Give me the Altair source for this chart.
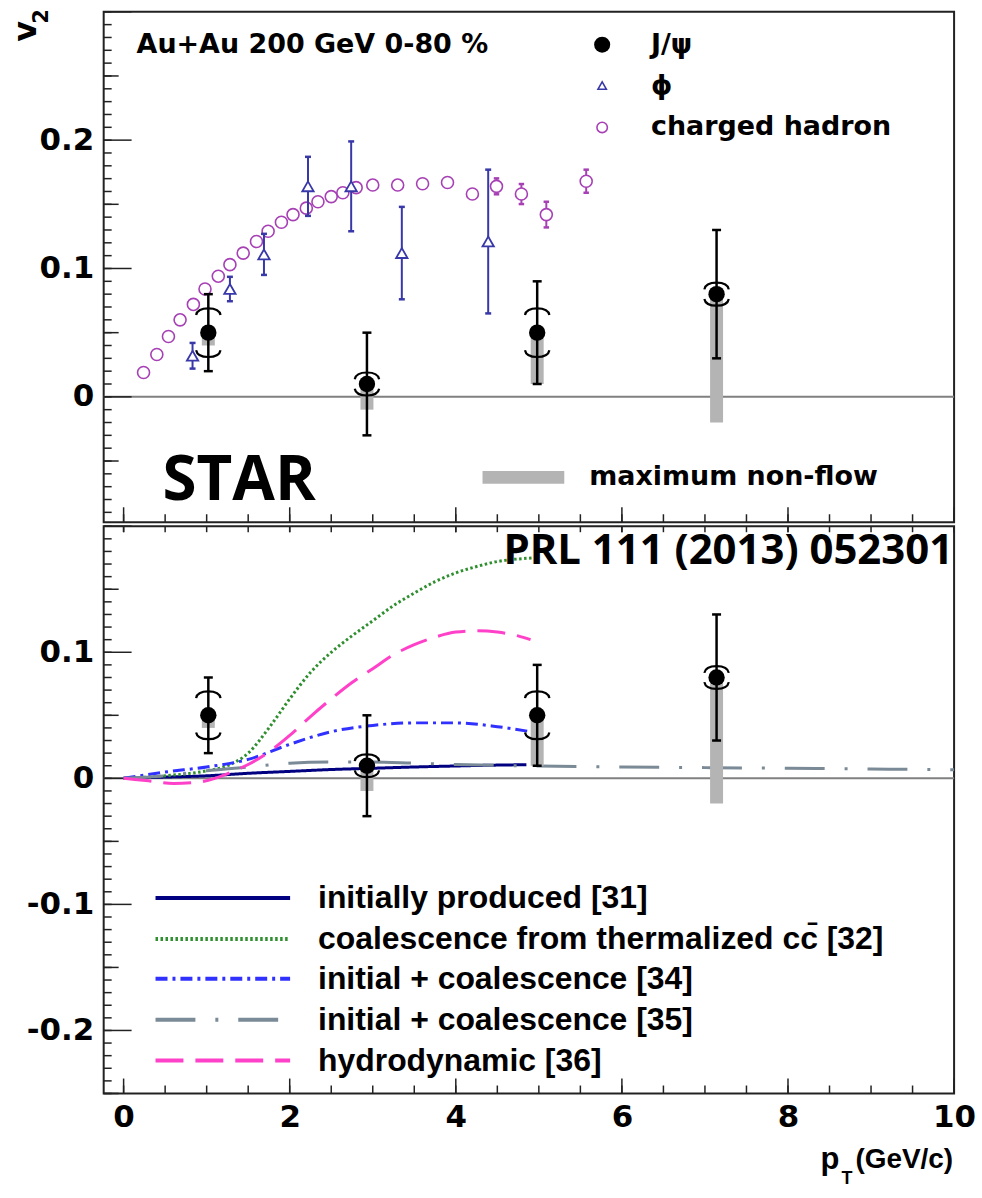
import altair as alt
import pandas as pd

# ---------------- data ----------------
jpsi_pt = [1.02, 2.93, 4.98, 7.14]
jpsi_v2 = [0.050, 0.010, 0.050, 0.080]
jpsi_stat = [0.030, 0.040, 0.040, 0.050]
jpsi_sys = [0.018, 0.008, 0.018, 0.008]
jpsi_nonflow_low = [0.040, -0.010, 0.010, -0.020]

phi_pt = [0.83, 1.28, 1.69, 2.22, 2.74, 3.35, 4.39]
phi_v2 = [0.032, 0.084, 0.111, 0.164, 0.164, 0.112, 0.121]
phi_err = [0.010, 0.0095, 0.016, 0.023, 0.035, 0.036, 0.056]

had_pt = [0.24, 0.40, 0.54, 0.68, 0.84, 0.98, 1.14, 1.28, 1.44, 1.60, 1.74, 1.90,
          2.04, 2.20, 2.34, 2.50, 2.64, 2.80, 3.00, 3.30, 3.60, 3.90, 4.20, 4.49,
          4.79, 5.09, 5.57]
had_v2 = [0.019, 0.033, 0.047, 0.060, 0.072, 0.084, 0.094, 0.103, 0.112, 0.121, 0.129, 0.136,
          0.142, 0.147, 0.152, 0.156, 0.159, 0.163, 0.165, 0.165, 0.166, 0.167, 0.158, 0.164,
          0.158, 0.142, 0.168]
had_err = [0, 0, 0, 0, 0, 0, 0, 0, 0, 0, 0, 0,
           0, 0, 0, 0, 0, 0, 0, 0, 0, 0, 0, 0.0062,
           0.0078, 0.010, 0.009]

m31_pt = [0.0, 0.5, 1.0, 1.5, 2.0, 2.5, 3.0, 3.5, 4.0, 4.5, 4.85]
m31_v2 = [0.0, 0.001, 0.002, 0.004, 0.0055, 0.007, 0.008, 0.009, 0.0098, 0.0105, 0.0108]

m32_pt = [0.0, 0.5, 1.0, 1.25, 1.5, 1.75, 2.0, 2.25, 2.5, 2.75, 3.0, 3.25, 3.5, 3.75,
          4.0, 4.25, 4.5, 4.75, 5.0]
m32_v2 = [0.0, 0.002, 0.006, 0.010, 0.020, 0.040, 0.063, 0.084, 0.100, 0.113, 0.125, 0.137,
          0.147, 0.156, 0.163, 0.168, 0.172, 0.174, 0.175]

m34_pt = [0.0, 0.5, 1.0, 1.5, 2.0, 2.5, 3.0, 3.5, 4.0, 4.5, 4.9]
m34_v2 = [0.0, 0.005, 0.009, 0.015, 0.027, 0.037, 0.042, 0.044, 0.044, 0.041, 0.037]

m35_pt = [0.0, 0.5, 1.0, 1.5, 2.0, 2.5, 3.0, 3.5, 4.0, 5.0, 6.0, 7.0, 8.0, 9.0, 10.0]
m35_v2 = [0.0, 0.002, 0.006, 0.009, 0.012, 0.013, 0.013, 0.012, 0.011, 0.0097, 0.009, 0.0085,
          0.008, 0.0074, 0.0068]

m36_pt = [0.0, 0.3, 0.6, 0.9, 1.1, 1.3, 1.5, 1.75, 2.0, 2.25, 2.5, 2.75, 3.0, 3.25, 3.5,
          3.75, 4.0, 4.25, 4.5, 4.75, 4.9]
m36_v2 = [0.0, -0.002, -0.004, -0.003, 0.0, 0.005, 0.011, 0.021, 0.034, 0.049, 0.063, 0.076,
          0.087, 0.098, 0.106, 0.112, 0.116, 0.117, 0.116, 0.113, 0.110]

model_labels = ["initially produced [31]", "coalescence from thermalized c\u0063\u0304 [32]",
                "initial + coalescence [34]", "initial + coalescence [35]", "hydrodynamic [36]"]

top_yticks = [0, 0.1, 0.2]
bot_yticks = [-0.2, -0.1, 0, 0.1]
xticks = [0, 2, 4, 6, 8, 10]

# ---------------- geometry / style ----------------
W, HT, HB = 853, 512, 569
XS = alt.Scale(domain=[-0.24, 10], nice=False, zero=False)
YT = alt.Scale(domain=[-0.0977, 0.3], nice=False, zero=False)
YB = alt.Scale(domain=[-0.25, 0.2], nice=False, zero=False)

FRAME = "#222222"
PHI_C = "#3838a8"
HAD_C = "#a640b4"
NF_C = "#b4b4b4"
BOLD = "DejaVu Sans"
ARIAL = "Liberation Sans"
CAL = "Open Sans"

BR_TOP = "M -1 0.45 Q -0.9 -0.1 0 -0.1 Q 0.9 -0.1 1 0.45"
BR_BOT = "M -1 -0.45 Q -0.9 0.1 0 0.1 Q 0.9 0.1 1 -0.45"


def yaxis(vals):
    return alt.Axis(values=vals, ticks=False, tickSize=0, domain=False, grid=False,
                    labelFont=BOLD, labelFontWeight="bold", labelFontSize=31,
                    labelColor="black", labelPadding=10,
                    labelExpr="datum.value == 0 ? '0' : '' + datum.value")


AX_YT = yaxis(top_yticks)
AX_YB = yaxis(bot_yticks)
AX_XB = alt.Axis(values=xticks, ticks=False, tickSize=0, domain=False, grid=False,
                 labelFont=BOLD, labelFontWeight="bold", labelFontSize=31,
                 labelColor="black", labelPadding=9, labelFlush=False)

jdf = pd.DataFrame({"pt": jpsi_pt, "v2": jpsi_v2})
jdf["lo"] = jdf.v2 - pd.Series(jpsi_stat)
jdf["hi"] = jdf.v2 + pd.Series(jpsi_stat)
jdf["slo"] = jdf.v2 - pd.Series(jpsi_sys)
jdf["shi"] = jdf.v2 + pd.Series(jpsi_sys)
jdf["nf"] = jpsi_nonflow_low

pdf = pd.DataFrame({"pt": phi_pt, "v2": phi_v2, "e": phi_err})
pdf["lo"] = pdf.v2 - pdf.e
pdf["hi"] = pdf.v2 + pdf.e

hdf = pd.DataFrame({"pt": had_pt, "v2": had_v2, "e": had_err})
hdf["lo"] = hdf.v2 - hdf.e
hdf["hi"] = hdf.v2 + hdf.e
hdf_err = hdf[hdf.e > 0]

one = pd.DataFrame({"d": [0]})


class Panel:
    def __init__(self, yscale, yaxis_, xaxis_):
        self.ys, self.ya, self.xa = yscale, yaxis_, xaxis_

    def X(self, field="pt"):
        return alt.X(f"{field}:Q", scale=XS, axis=self.xa, title=None)

    def Y(self, field):
        return alt.Y(f"{field}:Q", scale=self.ys, axis=self.ya, title=None)


def text(t, x, y, size, font=BOLD, align="left", angle=0, weight="bold", color="black"):
    return alt.Chart(one).mark_text(text=t, font=font, fontSize=size, fontWeight=weight,
                                    align=align, baseline="middle", angle=angle,
                                    color=color).encode(x=alt.value(x), y=alt.value(y))


def tick_layers(P, ymin, ymax, H, top_ticks_down):
    layers = []
    lo = int(round(ymin * 100 + 0.499))
    hi = int(round(ymax * 100))
    minor = [i / 100 for i in range(lo, hi + 1)]
    med = [v for v in minor if abs(round(v * 100)) % 5 == 0 and abs(round(v * 100)) % 10 != 0]
    maj = [v for v in minor if abs(round(v * 100)) % 10 == 0]
    for vals, L in ((minor, 8), (med, 15), (maj, 28)):
        layers.append(alt.Chart(pd.DataFrame({"t": vals})).mark_rule(color=FRAME, strokeWidth=1.5)
                      .encode(y=P.Y("t"), x=alt.value(0), x2=alt.value(L)))
    xminor = [0.5 * i for i in range(21)]
    xmaj = [2 * i for i in range(6)]
    for vals, L in ((xminor, 8), (xmaj, 15)):
        d = pd.DataFrame({"t": vals})
        layers.append(alt.Chart(d).mark_rule(color=FRAME, strokeWidth=1.5)
                      .encode(x=P.X("t"), y=alt.value(H), y2=alt.value(H - L)))
        if top_ticks_down:
            layers.append(alt.Chart(d).mark_rule(color=FRAME, strokeWidth=1.5)
                          .encode(x=P.X("t"), y=alt.value(0), y2=alt.value(6)))
    return layers


def jpsi_layers(P):
    b = alt.Chart(jdf)
    return [
        b.mark_rule(color=NF_C, strokeWidth=13, strokeCap="butt").encode(x=P.X(), y=P.Y("v2"), y2="nf:Q"),
        b.mark_rule(color="black", strokeWidth=2.5).encode(x=P.X(), y=P.Y("lo"), y2="hi:Q"),
        b.mark_point(shape="stroke", size=81, strokeWidth=2.5, color="black", opacity=1)
        .encode(x=P.X(), y=P.Y("lo")),
        b.mark_point(shape="stroke", size=81, strokeWidth=2.5, color="black", opacity=1)
        .encode(x=P.X(), y=P.Y("hi")),
        b.mark_point(shape=BR_TOP, size=600, strokeWidth=2.2, color="black", opacity=1)
        .encode(x=P.X(), y=P.Y("shi")),
        b.mark_point(shape=BR_BOT, size=600, strokeWidth=2.2, color="black", opacity=1)
        .encode(x=P.X(), y=P.Y("slo")),
        b.mark_circle(size=270, color="black", opacity=1).encode(x=P.X(), y=P.Y("v2")),
    ]


# ---------------- top panel ----------------
PT = Panel(YT, AX_YT, None)
zero_top = alt.Chart(pd.DataFrame({"z": [0.0]})).mark_rule(color="#808080", strokeWidth=2).encode(
    y=PT.Y("z"))

top_layers = [zero_top]
top_layers += tick_layers(PT, -0.0977, 0.3, HT, False)

hb = alt.Chart(hdf_err)
pb = alt.Chart(pdf)
top_layers += [
    hb.mark_rule(color=HAD_C, strokeWidth=2).encode(x=PT.X(), y=PT.Y("lo"), y2="hi:Q"),
    hb.mark_point(shape="stroke", size=30, strokeWidth=2.5, color=HAD_C, opacity=1).encode(x=PT.X(), y=PT.Y("lo")),
    hb.mark_point(shape="stroke", size=30, strokeWidth=2.5, color=HAD_C, opacity=1).encode(x=PT.X(), y=PT.Y("hi")),
    alt.Chart(hdf).mark_point(shape="circle", size=145, filled=True, fill="white", stroke=HAD_C,
                              strokeWidth=1.6, opacity=1).encode(x=PT.X(), y=PT.Y("v2")),
    pb.mark_rule(color=PHI_C, strokeWidth=2).encode(x=PT.X(), y=PT.Y("lo"), y2="hi:Q"),
    pb.mark_point(shape="stroke", size=36, strokeWidth=2.5, color=PHI_C, opacity=1).encode(x=PT.X(), y=PT.Y("lo")),
    pb.mark_point(shape="stroke", size=36, strokeWidth=2.5, color=PHI_C, opacity=1).encode(x=PT.X(), y=PT.Y("hi")),
    pb.mark_point(shape="triangle-up", size=130, filled=True, fill="white", stroke=PHI_C,
                  strokeWidth=1.8, opacity=1).encode(x=PT.X(), y=PT.Y("v2")),
]
top_layers += jpsi_layers(PT)

top_layers += [
    text("Au+Au 200 GeV 0-80 %", 33, 33, 27),
    alt.Chart(one).mark_point(shape="circle", size=260, filled=True, color="black", opacity=1)
    .encode(x=alt.value(500), y=alt.value(33)),
    alt.Chart(one).mark_point(shape="triangle-up", size=70, filled=False, color=PHI_C, strokeWidth=1.6,
                              opacity=1).encode(x=alt.value(500), y=alt.value(74)),
    alt.Chart(one).mark_point(shape="circle", size=110, filled=False, color=HAD_C, strokeWidth=1.6,
                              opacity=1).encode(x=alt.value(500), y=alt.value(116)),
    text("J/\u03c8", 549, 33, 27),
    text("\u03d5", 549, 74, 27),
    text("charged hadron", 549, 116, 27),
    text("STAR", 59, 471, 62, font=CAL),
    alt.Chart(one).mark_rule(color=NF_C, strokeWidth=13, strokeCap="butt")
    .encode(x=alt.value(380), x2=alt.value(462), y=alt.value(467)),
    text("maximum non-flow", 487, 467, 27),
    text("v", -78, 30, 32, angle=270),
    text("2", -62, 12, 21, angle=270),
]

top = alt.layer(*top_layers).properties(width=W, height=HT)

# ---------------- bottom panel ----------------
PB = Panel(YB, AX_YB, AX_XB)
zero_bot = alt.Chart(pd.DataFrame({"z": [0.0]})).mark_rule(color="#808080", strokeWidth=2).encode(
    y=PB.Y("z"))

bot_layers = [zero_bot]
bot_layers += tick_layers(PB, -0.25, 0.2, HB, True)

models = [
    (m31_pt, m31_v2, "#000080", [1, 0]),
    (m32_pt, m32_v2, "#2f8f2f", [2.5, 2.5]),
    (m34_pt, m34_v2, "#3030ff", [12, 5, 3, 5]),
    (m35_pt, m35_v2, "#7a8a96", [40, 20, 3, 20]),
    (m36_pt, m36_v2, "#ff40c8", [28, 12]),
]
for pts, vals, col, dash in models:
    bot_layers.append(alt.Chart(pd.DataFrame({"pt": pts, "v2": vals}))
                      .mark_line(color=col, strokeDash=dash, strokeWidth=3, interpolate="monotone")
                      .encode(x=PB.X(), y=PB.Y("v2")))

bot_layers += jpsi_layers(PB)

leg_y = [373, 414, 454, 495, 536]
for (pts, vals, col, dash), lab, yy in zip(models, model_labels, leg_y):
    bot_layers.append(alt.Chart(one).mark_rule(color=col, strokeDash=dash, strokeWidth=4)
                      .encode(x=alt.value(52), x2=alt.value(187), y=alt.value(yy)))
    bot_layers.append(text(lab, 215, yy, 32, font=ARIAL))

bot_layers += [
    text("PRL 111 (2013) 052301", 852, 25, 42, font=CAL, align="right"),
    text("p", 738, 636, 31, font=ARIAL, align="right"),
    text("T", 740, 655, 18, font=ARIAL),
    text("(GeV/c)", 852, 636, 28, font=ARIAL, align="right"),
]

bottom = alt.layer(*bot_layers).properties(width=W, height=HB)

chart = (alt.vconcat(top, bottom, spacing=0)
         .resolve_scale(x="independent", y="independent")
         .configure_view(stroke=FRAME, strokeWidth=2)
         .properties(padding={"left": 9, "top": 6, "right": 5, "bottom": 5},
                     background="white"))

chart.save("out.html", embed_options={"renderer": "svg", "actions": False})
